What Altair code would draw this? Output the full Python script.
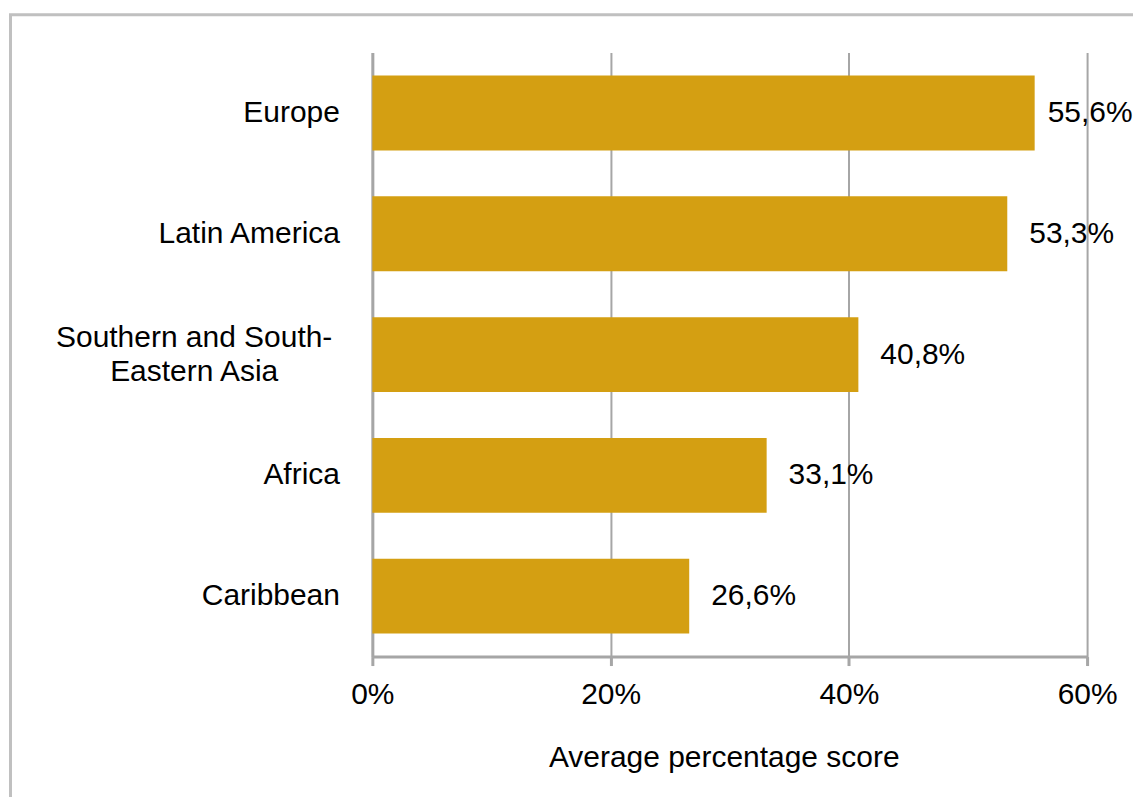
import altair as alt
import pandas as pd

regions = ["Europe", "Latin America", "Southern and South-Eastern Asia", "Africa", "Caribbean"]
scores = [55.6, 53.3, 40.8, 33.1, 26.6]
x_ticks = [0, 20, 40, 60]

df = pd.DataFrame({"region": regions, "score": scores})
df["label"] = [f"{v:.1f}%".replace(".", ",") for v in scores]

FONT = "Liberation Sans"
GRID = "#a6a6a6"
BAR = "#D49F12"
LONG = "Southern and South-Eastern Asia"
IS_LONG = f"datum.value == '{LONG}'"

frame = alt.Chart(alt.Data(values=[{"a": 1}])).mark_rect(
    fillOpacity=0, stroke="#c0c0c0", strokeWidth=3, clip=False
).encode(
    x=alt.value(-362.5), x2=alt.value(900), y=alt.value(-38), y2=alt.value(900)
)

y_enc = alt.Y(
    "region:N", sort=regions, title=None,
    scale=alt.Scale(paddingInner=0.38, paddingOuter=0.19),
    axis=alt.Axis(
        labelExpr=f"{IS_LONG} ? ['Southern and South-', 'Eastern Asia'] : datum.label",
        labelAlign={"condition": {"test": IS_LONG, "value": "center"}, "value": "right"},
        labelPadding={"condition": {"test": IS_LONG, "value": 179}, "value": 33},
        labelOffset={"condition": {"test": IS_LONG, "value": -17}, "value": 0},
        ticks=False, domainColor=GRID, domainWidth=3, labelFont=FONT, labelFontSize=30,
        labelColor="#000000", labelLineHeight=34, grid=False, labelLimit=500,
    ),
)

x_enc = alt.X(
    "score:Q", scale=alt.Scale(domain=[0, 60], nice=False),
    axis=alt.Axis(
        values=x_ticks, labelExpr="datum.value + '%'", title="Average percentage score",
        grid=True, gridColor=GRID, gridWidth=2, domainColor=GRID, domainWidth=3,
        tickColor=GRID, tickWidth=3, tickSize=9, labelFont=FONT, labelFontSize=30,
        labelColor="#000000", labelPadding=14, labelFlush=False, titleFont=FONT, titleFontSize=30,
        titleFontWeight="normal", titleColor="#000000", titlePadding=33,
        titleX=352, titleAlign="center",
    ),
)

bars = alt.Chart(df).mark_bar(color=BAR).encode(x=x_enc, y=y_enc)
text_first = alt.Chart(df).transform_filter(alt.datum.region == "Europe").mark_text(
    align="left", baseline="middle", dx=13, fontSize=30, font=FONT, color="#000000"
).encode(x="score:Q", y=alt.Y("region:N", sort=regions), text="label:N")
text_rest = alt.Chart(df).transform_filter(alt.datum.region != "Europe").mark_text(
    align="left", baseline="middle", dx=22, fontSize=30, font=FONT, color="#000000"
).encode(x="score:Q", y=alt.Y("region:N", sort=regions), text="label:N")

chart = alt.layer(frame, bars, text_first, text_rest).properties(
    width=716, height=605,
    autosize=alt.AutoSizeParams(type="none"),
    padding={"left": 365, "top": 44, "right": 46, "bottom": 140},
    background="white",
).configure_view(stroke=None)

chart.save("out.html", embed_options={"renderer": "svg", "actions": False})
